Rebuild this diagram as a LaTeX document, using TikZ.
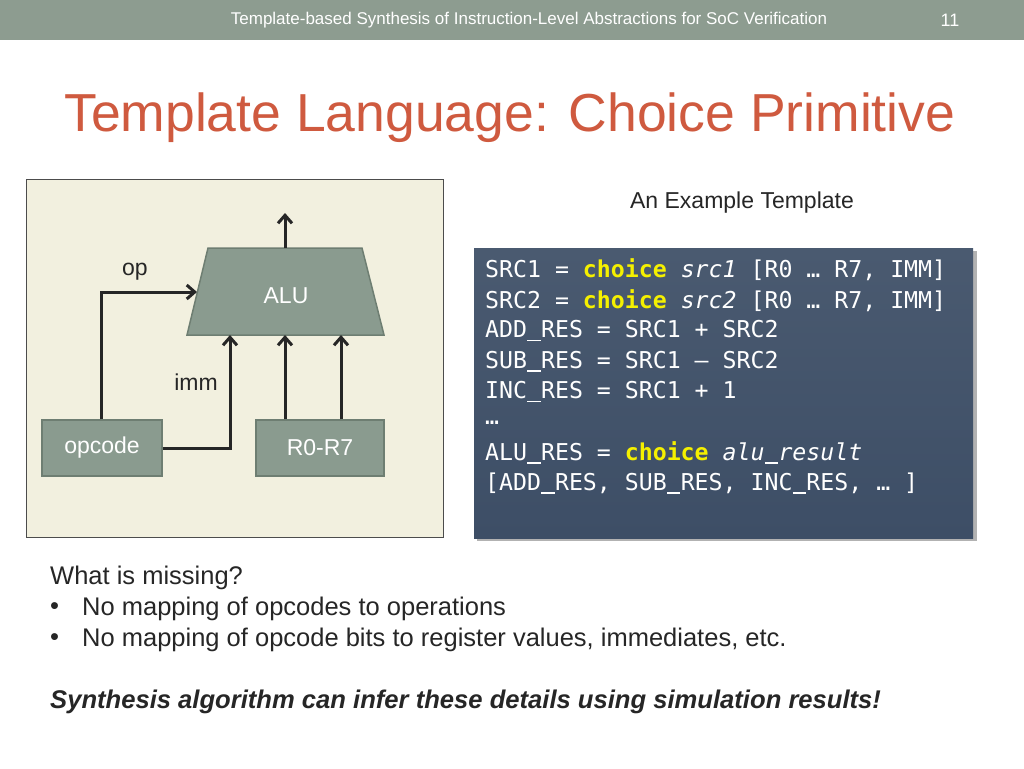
\documentclass[tikz,border=0pt]{standalone}
\usepackage{fontspec}
\setmainfont{Liberation Sans}
\newfontfamily\codefont{DejaVu Sans Mono}
\usetikzlibrary{arrows.meta}
\definecolor{hdr}{HTML}{8D9C90}
\definecolor{ttl}{HTML}{CF5A3F}
\definecolor{panel}{HTML}{F2F0DF}
\definecolor{blk}{HTML}{8A9B8F}
\definecolor{blkd}{HTML}{6E7E72}
\definecolor{codebg}{HTML}{3D4E66}
\definecolor{codebg2}{HTML}{4A5A70}
\definecolor{yel}{HTML}{F5F000}
\newcommand\us{\makebox[0.602em]{\rule[-0.14em]{0.58em}{0.07em}}}
\begin{document}
\begin{tikzpicture}[x=1pt,y=-1pt,
  blkbox/.style={draw=blkd,line width=1.5pt,fill=blk,text=white,font=\fontsize{23}{26}\selectfont,inner sep=0},
  wire/.style={line width=3pt,draw=black!85,-{Straight Barb[length=8pt,width=14pt,line width=3pt]}},
  lbl/.style={font=\fontsize{23}{26}\selectfont,text=black!85},
  codeline/.style={anchor=west,text=white,font=\codefont\fontsize{23.2}{26}\selectfont,inner sep=0}]
\useasboundingbox (0,0) rectangle (1024,768);
\fill[white] (0,0) rectangle (1024,768);
\fill[hdr] (0,0) rectangle (1024,40);
\node[text=white,font=\fontsize{17}{20}\selectfont] (hd) at (529,20) {Template-based Synthesis of Instruction-Level Abstractions for SoC Verification};
\node[text=white,font=\fontsize{18}{20}\selectfont] (pg) at (950,20) {11};
\node[text=ttl,font=\fontsize{53.5}{58}\selectfont,anchor=west,inner sep=0] (title) at (64,118) {Template Language: Choice Primitive};
% panel
\draw[black!70,fill=panel,line width=0.8pt] (26,179) rectangle (443,537);
\draw[blkd,fill=blk,line width=1.5pt] (208,248) -- (362,248) -- (384,335) -- (187,335) -- cycle;
\node[text=white,font=\fontsize{23}{26}\selectfont] (alu) at (286,296) {ALU};
\node[blkbox,minimum width=120pt,minimum height=56pt] (opc) at (102,448) {opcode};
\node[blkbox,minimum width=128pt,minimum height=56pt] (reg) at (320,448) {R0-R7};
\coordinate (aluout) at (285,248);
\coordinate (outend) at (285,213);
\draw[wire] (aluout) -- (outend);
\draw[wire] (opc.north -| 101,0) -- (101,292) -- (197,292);
\draw[wire] (opc.east) -- (230,448) -- (230,335);
\draw[wire] (reg.north -| 285,0) -- (285,335);
\draw[wire] (reg.north -| 341,0) -- (341,335);
\node[lbl] (op) at (135,272) {op};
\node[lbl] (imm) at (196,382) {imm};
% code
\node[font=\fontsize{23}{26}\selectfont,text=black!85] (ex) at (742,203) {An Example Template};
\fill[black!30] (477,251) rectangle (977,541);
\shade[top color=codebg2,bottom color=codebg] (474,248) rectangle (973,538);
\node[codeline] (l1) at (485,270) {SRC1 = {\bfseries\color{yel}choice} {\itshape src1} [R0 … R7, IMM]};
\node[codeline] (l2) at (485,300.5) {SRC2 = {\bfseries\color{yel}choice} {\itshape src2} [R0 … R7, IMM]};
\node[codeline] (l3) at (485,331) {ADD\us RES = SRC1 + SRC2};
\node[codeline] (l4) at (485,361.5) {SUB\us RES = SRC1 – SRC2};
\node[codeline] (l5) at (485,392) {INC\us RES = SRC1 + 1};
\node[codeline] (l6) at (485,422.5) {…};
\node[codeline] (l7) at (485,453) {ALU\us RES = {\bfseries\color{yel}choice} {\itshape alu\us result}};
\node[codeline] (l8) at (485,483.5) {[ADD\us RES, SUB\us RES, INC\us RES, … ]};
% bottom text
\begin{scope}[every node/.style={anchor=west,inner sep=0,font=\fontsize{25.5}{28}\selectfont,text=black!85}]
\node (t1) at (50,578) {What is missing?};
\node (b1) at (50,609) {•};
\node (t2) at (82,609) {No mapping of opcodes to operations};
\node (b2) at (50,640) {•};
\node (t3) at (82,640) {No mapping of opcode bits to register values, immediates, etc.};
\node[font=\fontsize{25.6}{28}\selectfont\bfseries\itshape] (t4) at (50,702) {Synthesis algorithm can infer these details using simulation results!};
\end{scope}
\end{tikzpicture}
\end{document}
